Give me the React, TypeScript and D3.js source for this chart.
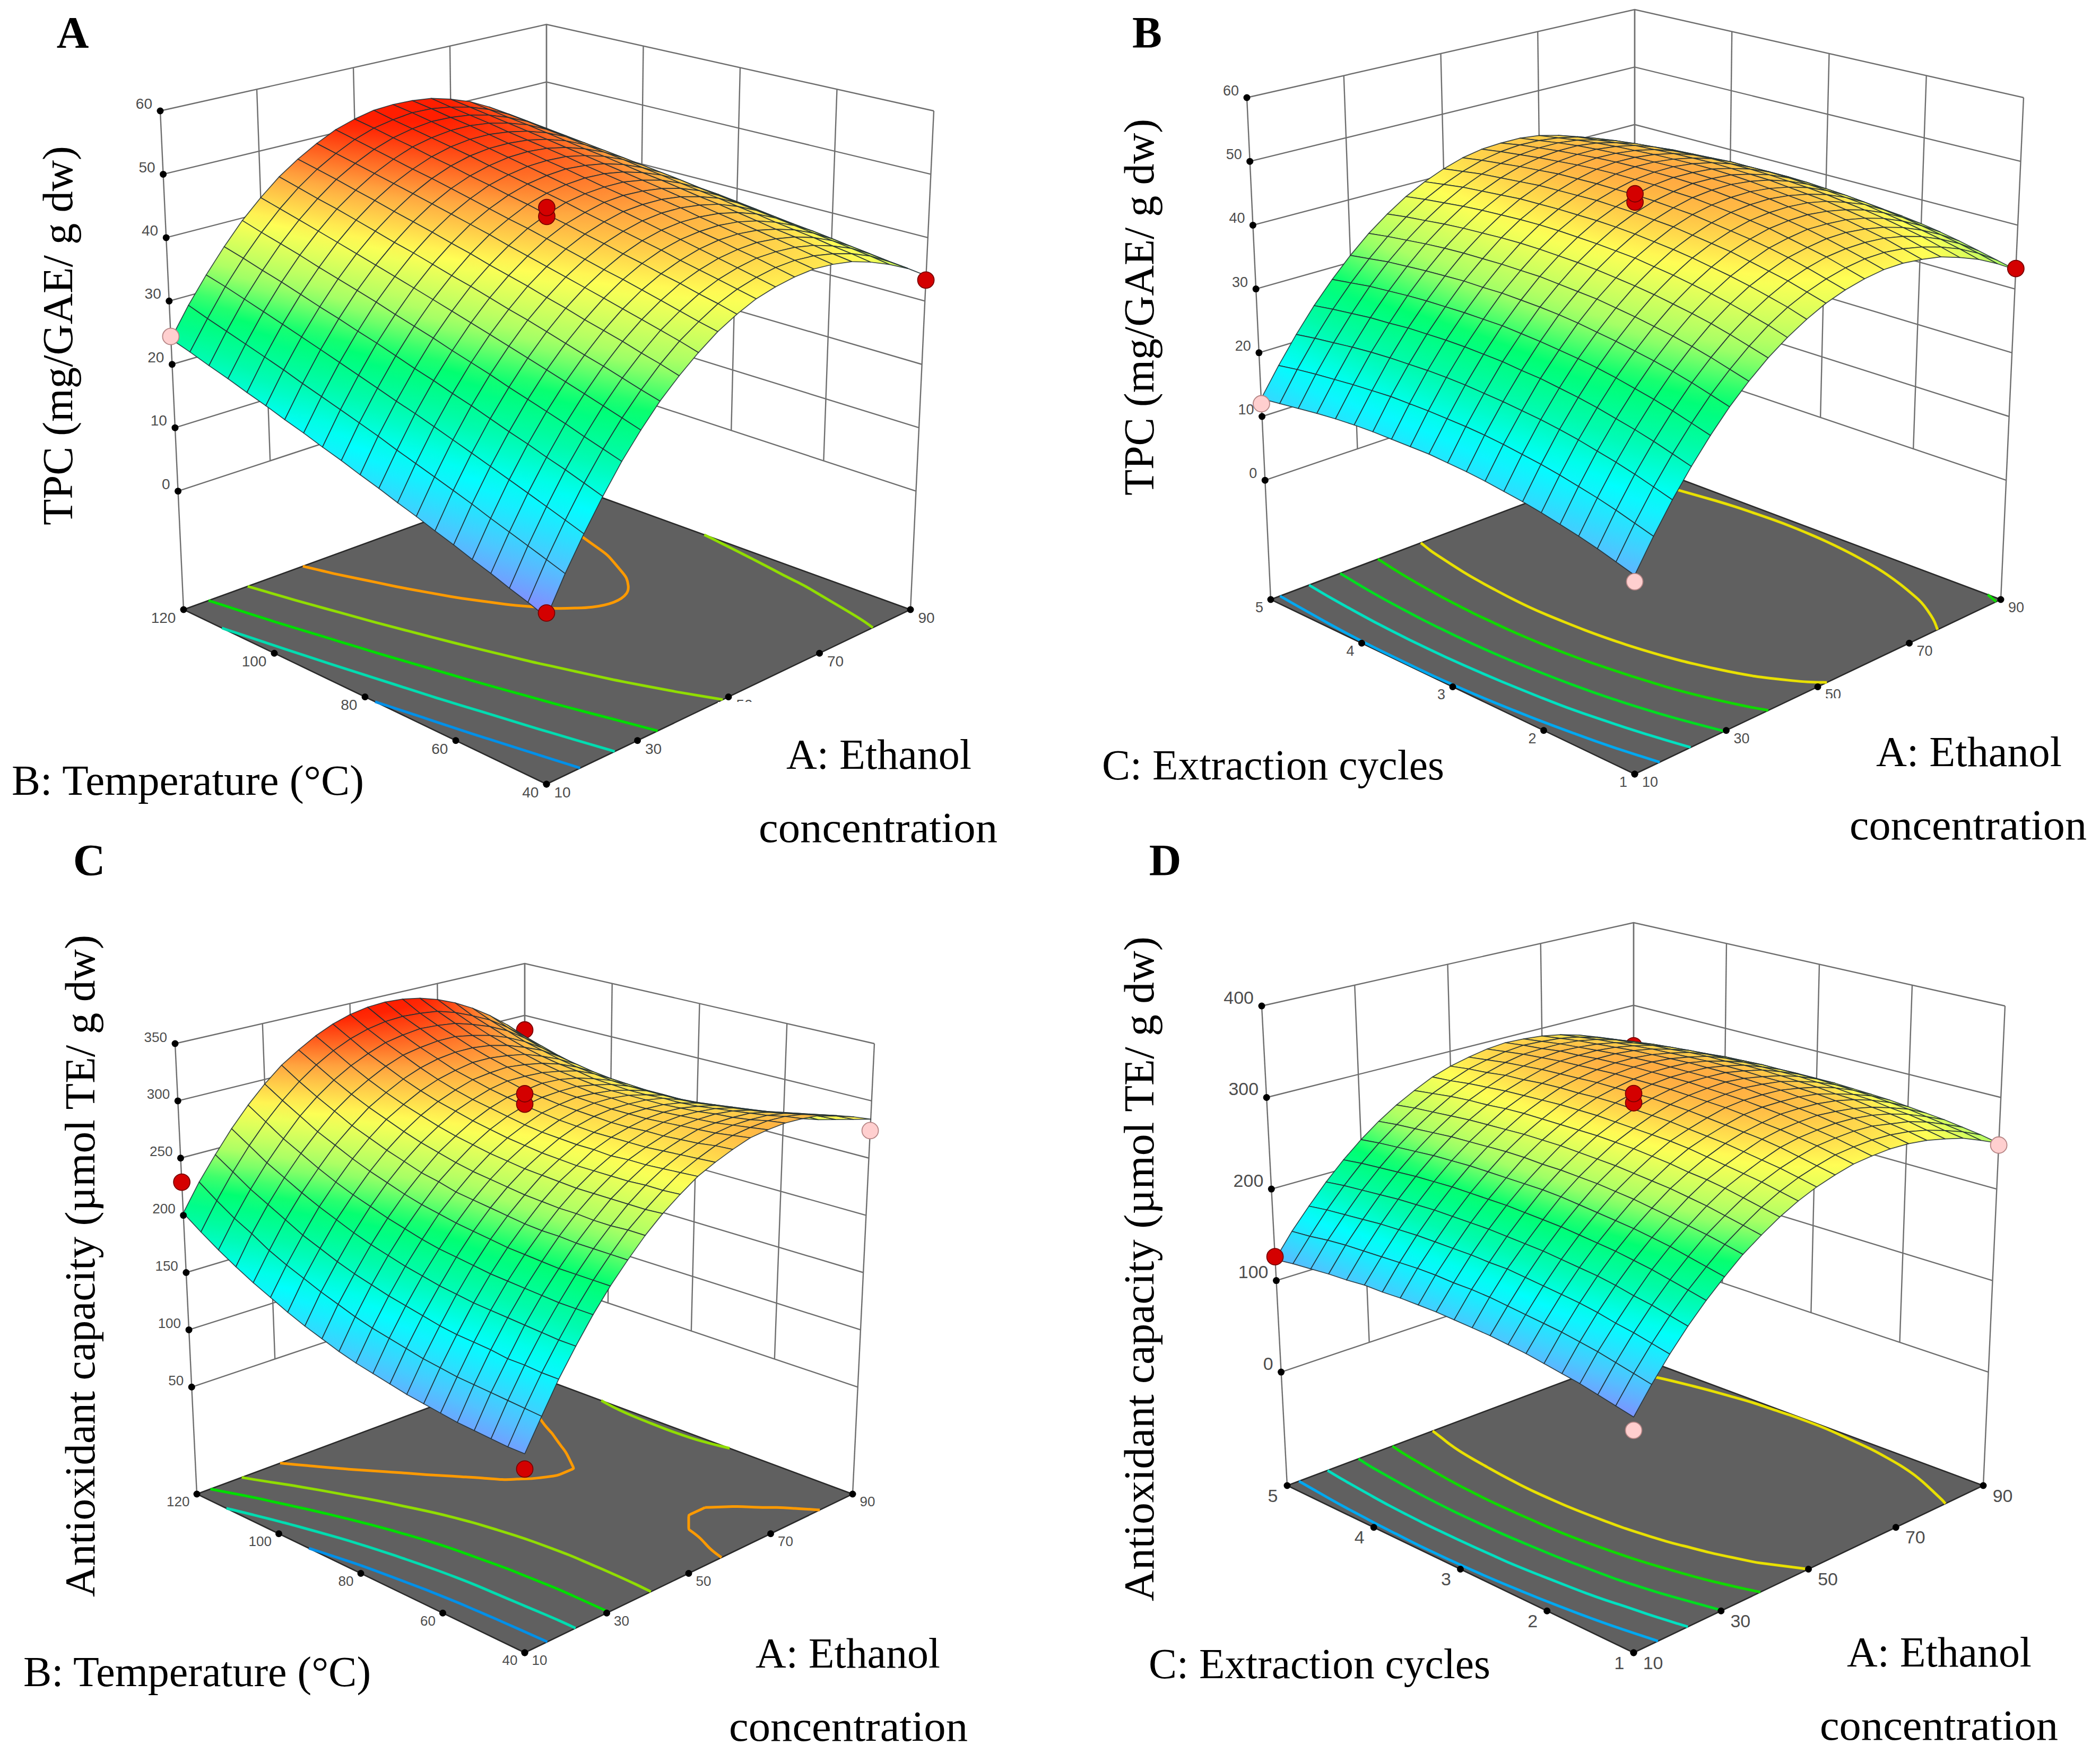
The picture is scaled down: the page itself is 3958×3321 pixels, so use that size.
import { useEffect, useRef } from 'react';
import * as d3 from 'd3';

// factor levels of the response surface grid
const ethanolGrid = [10, 14, 18, 22, 26, 30, 34, 38, 42, 46, 50, 54, 58, 62, 66, 70, 74, 78, 82, 86, 90];
const temperatureGrid = [40, 44, 48, 52, 56, 60, 64, 68, 72, 76, 80, 84, 88, 92, 96, 100, 104, 108, 112, 116, 120];
const cyclesGrid = [1, 1.2, 1.4, 1.6, 1.8, 2, 2.2, 2.4, 2.6, 2.8, 3, 3.2, 3.4, 3.6, 3.8, 4, 4.2, 4.4, 4.6, 4.8, 5];

const ethanolTicks = [10, 30, 50, 70, 90];
const temperatureTicks = [40, 60, 80, 100, 120];
const cyclesTicks = [1, 2, 3, 4, 5];
const tpcTicks = [0, 10, 20, 30, 40, 50, 60];
const capacityTicksC = [50, 100, 150, 200, 250, 300, 350];
const capacityTicksD = [0, 100, 200, 300, 400];

// rows: temperature low to high, columns: ethanol low to high
const tpcByTemperature = [
  [5.0, 10.1, 14.7, 19.0, 23.0, 26.5, 29.7, 32.4, 34.8, 36.9, 38.5, 39.8, 40.6, 41.1, 41.3, 41.0, 40.4, 39.3, 37.9, 36.2, 34.0],
  [6.0, 11.0, 15.6, 19.9, 23.8, 27.3, 30.4, 33.2, 35.6, 37.5, 39.2, 40.4, 41.2, 41.7, 41.8, 41.5, 40.8, 39.8, 38.4, 36.5, 34.4],
  [6.9, 11.9, 16.5, 20.8, 24.6, 28.1, 31.2, 33.9, 36.3, 38.2, 39.8, 41.0, 41.8, 42.3, 42.3, 42.0, 41.3, 40.2, 38.8, 36.9, 34.7],
  [7.9, 12.8, 17.4, 21.6, 25.5, 28.9, 32.0, 34.7, 37.0, 38.9, 40.5, 41.6, 42.4, 42.8, 42.9, 42.5, 41.8, 40.7, 39.2, 37.3, 35.1],
  [8.8, 13.7, 18.3, 22.5, 26.3, 29.7, 32.7, 35.4, 37.7, 39.6, 41.1, 42.2, 43.0, 43.4, 43.4, 43.0, 42.2, 41.1, 39.6, 37.7, 35.4],
  [9.8, 14.7, 19.2, 23.3, 27.1, 30.5, 33.5, 36.1, 38.4, 40.3, 41.8, 42.9, 43.6, 43.9, 43.9, 43.5, 42.7, 41.5, 40.0, 38.1, 35.8],
  [10.7, 15.6, 20.1, 24.2, 27.9, 31.3, 34.3, 36.9, 39.1, 40.9, 42.4, 43.5, 44.2, 44.5, 44.4, 44.0, 43.2, 42.0, 40.4, 38.4, 36.1],
  [11.7, 16.5, 21.0, 25.1, 28.8, 32.1, 35.1, 37.6, 39.8, 41.6, 43.1, 44.1, 44.8, 45.1, 45.0, 44.5, 43.7, 42.4, 40.8, 38.8, 36.5],
  [12.6, 17.4, 21.9, 25.9, 29.6, 32.9, 35.8, 38.4, 40.5, 42.3, 43.7, 44.7, 45.4, 45.6, 45.5, 45.0, 44.1, 42.9, 41.2, 39.2, 36.8],
  [13.6, 18.3, 22.8, 26.8, 30.4, 33.7, 36.6, 39.1, 41.2, 43.0, 44.4, 45.3, 46.0, 46.2, 46.0, 45.5, 44.6, 43.3, 41.6, 39.6, 37.2],
  [14.5, 19.3, 23.6, 27.6, 31.3, 34.5, 37.4, 39.8, 41.9, 43.7, 45.0, 46.0, 46.5, 46.7, 46.6, 46.0, 45.1, 43.7, 42.0, 40.0, 37.5],
  [15.5, 20.2, 24.5, 28.5, 32.1, 35.3, 38.1, 40.6, 42.7, 44.3, 45.7, 46.6, 47.1, 47.3, 47.1, 46.5, 45.5, 44.2, 42.5, 40.3, 37.9],
  [16.4, 21.1, 25.4, 29.4, 32.9, 36.1, 38.9, 41.3, 43.4, 45.0, 46.3, 47.2, 47.7, 47.9, 47.6, 47.0, 46.0, 44.6, 42.9, 40.7, 38.2],
  [17.4, 22.0, 26.3, 30.2, 33.8, 36.9, 39.7, 42.1, 44.1, 45.7, 47.0, 47.8, 48.3, 48.4, 48.2, 47.5, 46.5, 45.1, 43.3, 41.1, 38.6],
  [18.3, 22.9, 27.2, 31.1, 34.6, 37.7, 40.4, 42.8, 44.8, 46.4, 47.6, 48.4, 48.9, 49.0, 48.7, 48.0, 46.9, 45.5, 43.7, 41.5, 38.9],
  [19.3, 23.9, 28.1, 31.9, 35.4, 38.5, 41.2, 43.5, 45.5, 47.1, 48.3, 49.1, 49.5, 49.5, 49.2, 48.5, 47.4, 45.9, 44.1, 41.9, 39.3],
  [20.2, 24.8, 29.0, 32.8, 36.2, 39.3, 42.0, 44.3, 46.2, 47.7, 48.9, 49.7, 50.1, 50.1, 49.7, 49.0, 47.9, 46.4, 44.5, 42.2, 39.6],
  [21.2, 25.7, 29.9, 33.7, 37.1, 40.1, 42.8, 45.0, 46.9, 48.4, 49.6, 50.3, 50.7, 50.7, 50.3, 49.5, 48.4, 46.8, 44.9, 42.6, 40.0],
  [22.1, 26.6, 30.8, 34.5, 37.9, 40.9, 43.5, 45.8, 47.6, 49.1, 50.2, 50.9, 51.3, 51.2, 50.8, 50.0, 48.8, 47.3, 45.3, 43.0, 40.3],
  [23.1, 27.5, 31.7, 35.4, 38.7, 41.7, 44.3, 46.5, 48.3, 49.8, 50.9, 51.5, 51.9, 51.8, 51.3, 50.5, 49.3, 47.7, 45.7, 43.4, 40.7],
  [24.0, 28.5, 32.5, 36.2, 39.6, 42.5, 45.1, 47.2, 49.0, 50.5, 51.5, 52.2, 52.4, 52.3, 51.9, 51.0, 49.8, 48.1, 46.1, 43.8, 41.0],
];

// rows: extraction cycles low to high
const tpcByCycles = [
  [9.1, 13.5, 17.6, 21.3, 24.7, 27.8, 30.5, 32.9, 34.9, 36.6, 38.0, 39.0, 39.7, 40.1, 40.1, 39.7, 39.1, 38.0, 36.7, 35.0, 33.0],
  [9.9, 14.3, 18.4, 22.1, 25.5, 28.6, 31.3, 33.7, 35.8, 37.5, 38.8, 39.8, 40.5, 40.9, 40.9, 40.5, 39.8, 38.8, 37.5, 35.8, 33.7],
  [10.7, 15.1, 19.2, 22.9, 26.3, 29.4, 32.1, 34.5, 36.5, 38.2, 39.6, 40.6, 41.3, 41.6, 41.6, 41.3, 40.6, 39.6, 38.2, 36.5, 34.4],
  [11.4, 15.8, 19.9, 23.6, 27.0, 30.1, 32.8, 35.2, 37.2, 38.9, 40.2, 41.3, 41.9, 42.3, 42.3, 41.9, 41.2, 40.2, 38.8, 37.1, 35.1],
  [12.0, 16.4, 20.5, 24.2, 27.6, 30.7, 33.4, 35.8, 37.8, 39.5, 40.8, 41.9, 42.5, 42.9, 42.8, 42.5, 41.8, 40.8, 39.4, 37.7, 35.7],
  [12.6, 17.0, 21.1, 24.8, 28.2, 31.2, 33.9, 36.3, 38.3, 40.0, 41.4, 42.4, 43.1, 43.4, 43.4, 43.0, 42.3, 41.3, 39.9, 38.2, 36.2],
  [13.1, 17.5, 21.6, 25.3, 28.7, 31.7, 34.4, 36.8, 38.8, 40.5, 41.8, 42.8, 43.5, 43.8, 43.8, 43.5, 42.8, 41.7, 40.4, 38.6, 36.6],
  [13.5, 17.9, 22.0, 25.7, 29.1, 32.1, 34.8, 37.2, 39.2, 40.9, 42.2, 43.2, 43.9, 44.2, 44.2, 43.8, 43.1, 42.1, 40.7, 39.0, 36.9],
  [13.9, 18.3, 22.3, 26.1, 29.4, 32.5, 35.2, 37.5, 39.6, 41.2, 42.6, 43.6, 44.2, 44.5, 44.5, 44.1, 43.4, 42.4, 41.0, 39.3, 37.2],
  [14.2, 18.6, 22.6, 26.3, 29.7, 32.8, 35.4, 37.8, 39.8, 41.5, 42.8, 43.8, 44.5, 44.8, 44.8, 44.4, 43.7, 42.6, 41.2, 39.5, 37.5],
  [14.4, 18.8, 22.8, 26.6, 29.9, 33.0, 35.6, 38.0, 40.0, 41.7, 43.0, 44.0, 44.6, 45.0, 44.9, 44.6, 43.8, 42.8, 41.4, 39.7, 37.6],
  [14.6, 18.9, 23.0, 26.7, 30.1, 33.1, 35.8, 38.1, 40.1, 41.8, 43.1, 44.1, 44.8, 45.1, 45.0, 44.7, 43.9, 42.9, 41.5, 39.8, 37.7],
  [14.6, 19.0, 23.1, 26.8, 30.1, 33.2, 35.8, 38.2, 40.2, 41.8, 43.2, 44.1, 44.8, 45.1, 45.1, 44.7, 44.0, 42.9, 41.5, 39.8, 37.7],
  [14.6, 19.0, 23.1, 26.8, 30.1, 33.1, 35.8, 38.2, 40.2, 41.8, 43.1, 44.1, 44.8, 45.1, 45.0, 44.6, 43.9, 42.9, 41.5, 39.7, 37.6],
  [14.6, 19.0, 23.0, 26.7, 30.0, 33.1, 35.7, 38.1, 40.1, 41.7, 43.0, 44.0, 44.7, 45.0, 44.9, 44.5, 43.8, 42.7, 41.3, 39.6, 37.5],
  [14.5, 18.8, 22.9, 26.6, 29.9, 32.9, 35.6, 37.9, 39.9, 41.6, 42.9, 43.9, 44.5, 44.8, 44.7, 44.3, 43.6, 42.5, 41.1, 39.4, 37.3],
  [14.3, 18.6, 22.7, 26.3, 29.7, 32.7, 35.4, 37.7, 39.7, 41.3, 42.6, 43.6, 44.2, 44.5, 44.5, 44.1, 43.4, 42.3, 40.9, 39.1, 37.0],
  [14.0, 18.3, 22.4, 26.1, 29.4, 32.4, 35.1, 37.4, 39.4, 41.0, 42.3, 43.3, 43.9, 44.2, 44.2, 43.8, 43.0, 42.0, 40.5, 38.8, 36.7],
  [13.6, 18.0, 22.0, 25.7, 29.1, 32.1, 34.7, 37.0, 39.0, 40.7, 42.0, 42.9, 43.5, 43.8, 43.8, 43.4, 42.6, 41.6, 40.1, 38.4, 36.3],
  [13.2, 17.6, 21.6, 25.3, 28.6, 31.6, 34.3, 36.6, 38.6, 40.2, 41.5, 42.5, 43.1, 43.4, 43.3, 42.9, 42.2, 41.1, 39.7, 37.9, 35.8],
  [12.8, 17.1, 21.1, 24.8, 28.1, 31.1, 33.8, 36.1, 38.1, 39.7, 41.0, 42.0, 42.6, 42.8, 42.8, 42.4, 41.6, 40.5, 39.1, 37.4, 35.3],
];

const capacityByTemperature = [
  [112, 136, 160, 181, 201, 219, 235, 250, 263, 274, 284, 291, 297, 302, 304, 305, 304, 302, 297, 291, 284],
  [112, 137, 160, 181, 201, 219, 235, 250, 262, 273, 283, 290, 296, 300, 302, 303, 302, 299, 294, 288, 280],
  [113, 138, 161, 182, 201, 219, 235, 249, 262, 273, 282, 289, 294, 298, 300, 300, 299, 296, 291, 284, 276],
  [114, 139, 161, 183, 202, 219, 235, 249, 262, 272, 281, 288, 293, 297, 298, 298, 297, 293, 288, 281, 272],
  [115, 140, 163, 184, 203, 220, 236, 250, 262, 272, 281, 287, 292, 296, 297, 297, 295, 291, 285, 278, 269],
  [117, 141, 164, 185, 204, 221, 236, 250, 262, 272, 280, 287, 292, 295, 296, 295, 293, 289, 283, 275, 265],
  [119, 143, 165, 186, 205, 222, 237, 251, 263, 272, 281, 287, 291, 294, 295, 294, 291, 287, 281, 272, 263],
  [121, 145, 167, 188, 207, 224, 239, 252, 264, 273, 281, 287, 291, 294, 294, 293, 290, 285, 279, 270, 260],
  [124, 148, 170, 190, 209, 226, 241, 254, 265, 274, 282, 288, 292, 294, 294, 293, 290, 284, 277, 269, 258],
  [127, 151, 173, 193, 211, 228, 243, 256, 267, 276, 283, 289, 293, 295, 295, 293, 289, 284, 276, 267, 256],
  [130, 154, 176, 196, 214, 231, 245, 258, 269, 278, 285, 291, 294, 296, 295, 293, 289, 284, 276, 267, 255],
  [134, 158, 180, 200, 218, 234, 249, 261, 272, 281, 288, 293, 296, 297, 297, 294, 290, 284, 276, 266, 255],
  [139, 163, 184, 204, 222, 238, 252, 265, 275, 284, 291, 296, 298, 300, 299, 296, 291, 285, 277, 267, 255],
  [144, 168, 189, 209, 227, 243, 257, 269, 279, 288, 294, 299, 302, 302, 301, 298, 294, 287, 278, 268, 255],
  [150, 174, 195, 215, 232, 248, 262, 274, 284, 292, 298, 303, 305, 306, 304, 301, 296, 289, 280, 269, 256],
  [157, 180, 201, 221, 238, 254, 268, 280, 289, 297, 303, 307, 310, 310, 308, 305, 299, 292, 283, 271, 258],
  [164, 187, 209, 228, 245, 261, 274, 286, 295, 303, 309, 313, 315, 315, 313, 309, 303, 296, 286, 274, 261],
  [172, 196, 217, 236, 253, 268, 282, 293, 302, 310, 316, 319, 321, 321, 318, 314, 308, 300, 290, 278, 265],
  [181, 204, 225, 244, 261, 277, 290, 301, 310, 317, 323, 326, 328, 327, 325, 320, 314, 306, 295, 283, 269],
  [191, 214, 235, 254, 271, 286, 299, 310, 319, 326, 331, 334, 335, 334, 332, 327, 320, 312, 301, 288, 274],
  [202, 225, 245, 264, 281, 296, 309, 319, 328, 335, 340, 343, 344, 343, 340, 335, 328, 319, 308, 295, 280],
];

const capacityByCycles = [
  [106, 131, 154, 175, 194, 211, 227, 240, 252, 262, 270, 276, 281, 283, 284, 283, 280, 275, 269, 260, 250],
  [110, 135, 158, 179, 198, 215, 231, 244, 256, 266, 274, 280, 285, 287, 288, 287, 284, 279, 272, 264, 254],
  [114, 139, 162, 183, 202, 219, 235, 248, 260, 270, 278, 284, 289, 291, 292, 291, 287, 283, 276, 267, 257],
  [118, 143, 165, 186, 206, 223, 238, 252, 264, 273, 281, 288, 292, 294, 295, 294, 291, 286, 279, 270, 260],
  [121, 146, 169, 190, 209, 226, 241, 255, 267, 276, 284, 291, 295, 297, 298, 296, 293, 288, 281, 273, 262],
  [124, 149, 172, 193, 212, 229, 244, 258, 269, 279, 287, 293, 297, 300, 300, 299, 296, 291, 284, 275, 264],
  [127, 151, 174, 195, 214, 231, 247, 260, 272, 282, 289, 295, 300, 302, 302, 301, 298, 292, 285, 277, 266],
  [129, 153, 176, 197, 216, 233, 249, 262, 274, 284, 291, 297, 302, 304, 304, 303, 299, 294, 287, 278, 267],
  [131, 155, 178, 199, 218, 235, 251, 264, 276, 285, 293, 299, 303, 305, 306, 304, 301, 295, 288, 279, 268],
  [132, 157, 180, 200, 219, 237, 252, 265, 277, 286, 294, 300, 304, 306, 307, 305, 301, 296, 289, 280, 269],
  [133, 158, 180, 201, 220, 238, 253, 266, 278, 287, 295, 301, 305, 307, 307, 306, 302, 297, 289, 280, 269],
  [134, 158, 181, 202, 221, 238, 253, 267, 278, 288, 296, 301, 305, 307, 307, 306, 302, 297, 289, 280, 269],
  [134, 159, 181, 202, 221, 238, 254, 267, 278, 288, 296, 301, 305, 307, 307, 306, 302, 296, 289, 280, 268],
  [134, 159, 181, 202, 221, 238, 254, 267, 278, 288, 295, 301, 305, 307, 307, 305, 301, 296, 288, 279, 268],
  [133, 158, 181, 202, 221, 238, 253, 266, 278, 287, 295, 300, 304, 306, 306, 304, 300, 295, 287, 278, 266],
  [133, 157, 180, 201, 220, 237, 252, 265, 277, 286, 294, 299, 303, 305, 305, 303, 299, 293, 286, 276, 265],
  [131, 156, 179, 200, 219, 236, 251, 264, 275, 285, 292, 298, 302, 303, 303, 301, 297, 292, 284, 274, 263],
  [130, 155, 177, 198, 217, 234, 249, 262, 274, 283, 291, 296, 300, 302, 301, 299, 295, 289, 282, 272, 260],
  [128, 153, 175, 196, 215, 232, 247, 260, 272, 281, 288, 294, 298, 299, 299, 297, 293, 287, 279, 269, 258],
  [126, 150, 173, 194, 213, 230, 245, 258, 269, 278, 286, 291, 295, 297, 296, 294, 290, 284, 276, 266, 255],
  [123, 148, 170, 191, 210, 227, 242, 255, 266, 276, 283, 288, 292, 294, 293, 291, 287, 281, 273, 263, 251],
];

// design points: [ethanol, second factor, response, above prediction?]
const pointsA: [number, number, number, boolean][] = [
  [10, 120, 24.4, false], [90, 40, 33.3, true], [10, 40, 5.6, true], [50, 80, 44.7, true], [50, 80, 46.1, true],
];
const pointsB: [number, number, number, boolean][] = [
  [10, 5, 12, false], [90, 1, 33.2, true], [10, 1, 8.2, false], [50, 3, 44.7, true], [50, 3, 46, true],
];
const pointsC: [number, number, number, boolean][] = [
  [90, 120, 286, true], [10, 120, 229, true], [90, 40, 274, false], [10, 40, 100, true], [50, 80, 303, true], [50, 80, 312, true],
];
const pointsD: [number, number, number, boolean][] = [
  [90, 5, 251, true], [10, 5, 126, true], [90, 1, 248, false], [10, 1, 93, false], [50, 3, 302, true], [50, 3, 312, true],
];

const levelsA = [14, 22, 30, 38, 46.3];
const levelsB = [15, 21.5, 27.5, 33.5, 38.5];
const levelsC = [145, 183, 221, 259, 297];
const levelsD = [140, 177, 212, 243, 270];

const contourColorsAC = ['#0090e8', '#00dcb0', '#00dd00', '#90dd00', '#ff9a00'];
const contourColorsBD = ['#00a8f0', '#00e0c0', '#00dd20', '#10d800', '#e8e000'];

const colorStops = [0, 0.12, 0.27, 0.38, 0.5, 0.61, 0.75, 0.87, 1];
const colorValues = ['#8886ff', '#50c4ff', '#00ffff', '#00fbb0', '#00ff70', '#a4ff66', '#ffff55', '#ffa640', '#ff1e00'];

type Pt = [number, number];
interface Panel {
  id: string;
  letter: string;
  letterPos: Pt;
  bGrid: number[];
  bTicks: number[];
  zTicks: number[];
  zDomain: [number, number];
  colorDomain: [number, number];
  surface: number[][];
  points: [number, number, number, boolean][];
  levels: number[];
  contourColors: string[];
  tickSize: number;
  floor: [Pt, Pt, Pt, Pt]; // front, right, back, left
  top: [Pt, Pt, Pt, Pt];
  yTitle: { text: string; x: number; y0: number; y1: number };
  labels: { text: string; x0: number; x1: number; y: number }[];
  mask?: [number, number, number, number];
}

const panels: Panel[] = [
  {
    id: 'a', letter: 'A', letterPos: [137, 90], bGrid: temperatureGrid, bTicks: temperatureTicks, zTicks: tpcTicks,
    zDomain: [-18.7, 60], colorDomain: [5, 51.3], surface: tpcByTemperature, points: pointsA, levels: levelsA,
    contourColors: contourColorsAC, tickSize: 28,
    floor: [[1030, 1478], [1716, 1149], [1030, 900], [346, 1149]],
    top: [[1030, 433], [1760, 209], [1030, 46], [302, 209]],
    yTitle: { text: 'TPC (mg/GAE/ g dw)', x: 136, y0: 990, y1: 275 },
    labels: [
      { text: 'B: Temperature (°C)', x0: 22, x1: 686, y: 1498 },
      { text: 'A: Ethanol', x0: 1482, x1: 1831, y: 1449 },
      { text: 'concentration', x0: 1430, x1: 1880, y: 1587 },
    ],
    mask: [1353, 1323, 560, 60],
  },
  {
    id: 'b', letter: 'B', letterPos: [2162, 90], bGrid: cyclesGrid, bTicks: cyclesTicks, zTicks: tpcTicks,
    zDomain: [-18.7, 60], colorDomain: [5, 51.3], surface: tpcByCycles, points: pointsB, levels: levelsB,
    contourColors: contourColorsBD, tickSize: 27,
    floor: [[3081, 1459], [3771, 1130], [3081, 871], [2395, 1130]],
    top: [[3081, 398], [3814, 184], [3081, 18], [2350, 184]],
    yTitle: { text: 'TPC (mg/GAE/ g dw)', x: 2174, y0: 934, y1: 224 },
    labels: [
      { text: 'C: Extraction cycles', x0: 2077, x1: 2722, y: 1469 },
      { text: 'A: Ethanol', x0: 3536, x1: 3886, y: 1444 },
      { text: 'concentration', x0: 3486, x1: 3933, y: 1582 },
    ],
    mask: [3411, 1316, 540, 50],
  },
  {
    id: 'c', letter: 'C', letterPos: [168, 1650], bGrid: temperatureGrid, bTicks: temperatureTicks, zTicks: capacityTicksC,
    zDomain: [-43.5, 350], colorDomain: [100, 340], surface: capacityByTemperature, points: pointsC, levels: levelsC,
    contourColors: contourColorsAC, tickSize: 26,
    floor: [[989, 3115], [1607, 2816], [989, 2586], [371, 2816]],
    top: [[989, 2166], [1648, 1967], [989, 1816], [330, 1967]],
    yTitle: { text: 'Antioxidant capacity (µmol TE/ g dw)', x: 178, y0: 3010, y1: 1762 },
    labels: [
      { text: 'B: Temperature (°C)', x0: 44, x1: 699, y: 3178 },
      { text: 'A: Ethanol', x0: 1424, x1: 1772, y: 3143 },
      { text: 'concentration', x0: 1374, x1: 1824, y: 3281 },
    ],
  },
  {
    id: 'd', letter: 'D', letterPos: [2196, 1650], bGrid: cyclesGrid, bTicks: cyclesTicks, zTicks: capacityTicksD,
    zDomain: [-124, 400], colorDomain: [100, 340], surface: capacityByCycles, points: pointsD, levels: levelsD,
    contourColors: contourColorsBD, tickSize: 34,
    floor: [[3079, 3115], [3738, 2800], [3079, 2555], [2426, 2800]],
    top: [[3079, 2103], [3779, 1896], [3079, 1739], [2378, 1896]],
    yTitle: { text: 'Antioxidant capacity (µmol TE/ g dw)', x: 2174, y0: 3018, y1: 1765 },
    labels: [
      { text: 'C: Extraction cycles', x0: 2165, x1: 2809, y: 3163 },
      { text: 'A: Ethanol', x0: 3481, x1: 3829, y: 3141 },
      { text: 'concentration', x0: 3430, x1: 3879, y: 3279 },
    ],
  },
];

const SERIF = '"Liberation Serif", serif';
const SANS = '"Liberation Sans", sans-serif';

function drawPanel(svg: d3.Selection<SVGSVGElement, unknown, null, undefined>, p: Panel) {
  const n = ethanolGrid.length;
  const aExtent = d3.extent(ethanolTicks) as [number, number];
  const bExtent = d3.extent(p.bTicks) as [number, number];
  const sx = d3.scaleLinear().domain(aExtent).range([0, 1]);
  const sy = d3.scaleLinear().domain(bExtent).range([0, 1]);
  const sz = d3.scaleLinear().domain(p.zDomain).range([0, 1]);

  // box corners are interpolated, close enough to the perspective of the original
  const project = (a: number, b: number, z: number): Pt => {
    const s = sx(a), t = sy(b), r = sz(z);
    const mix = (c: [Pt, Pt, Pt, Pt], k: 0 | 1) =>
      (1 - s) * (1 - t) * c[0][k] + s * (1 - t) * c[1][k] + s * t * c[2][k] + (1 - s) * t * c[3][k];
    return [
      (1 - r) * mix(p.floor, 0) + r * mix(p.top, 0),
      (1 - r) * mix(p.floor, 1) + r * mix(p.top, 1),
    ];
  };

  const g = svg.append('g').attr('id', `panel-${p.id}`);
  const defs = g.append('defs');
  const line = d3.line<Pt>();
  const smooth = d3.line<Pt>().curve(d3.curveBasis);
  const zMin = p.zDomain[0], zMax = p.zTicks[p.zTicks.length - 1], zLow = p.zTicks[0];
  const [a0, a1] = aExtent;
  const [b0, b1] = bExtent;

  // back walls, the inner grid lines stop at the lowest tick
  const walls = g.append('g').attr('fill', 'none').attr('stroke', '#6e6e6e').attr('stroke-width', 2.4);
  p.zTicks.forEach(z => {
    walls.append('path').attr('d', line([project(a0, b1, z), project(a1, b1, z), project(a1, b0, z)]));
  });
  ethanolTicks.forEach(a => {
    walls.append('path').attr('d', line([project(a, b1, a === a0 ? zMin : zLow), project(a, b1, zMax)]));
  });
  p.bTicks.forEach(b => {
    walls.append('path').attr('d', line([project(a1, b, b === b0 ? zMin : zLow), project(a1, b, zMax)]));
  });

  // floor
  g.append('path')
    .attr('d', line(p.floor) + 'Z')
    .attr('fill', '#606060')
    .attr('stroke', '#2a2a2a')
    .attr('stroke-width', 2.6);

  // contours on the floor, the boundary part of each ring is left out
  const flat = p.surface.flat();
  const contours = d3.contours().size([n, n]).thresholds(p.levels)(flat);
  const aOf = d3.scaleLinear().domain([0.5, n - 0.5]).range(aExtent);
  const bOf = d3.scaleLinear().domain([0.5, n - 0.5]).range(bExtent);
  contours.forEach((c, li) => {
    c.coordinates.forEach(poly => poly.forEach(ring => {
      let run: Pt[] = [];
      const runs: Pt[][] = [];
      ring.forEach(([x, y]) => {
        const inside = x >= 0.499 && x <= n - 0.499 && y >= 0.499 && y <= n - 0.499;
        if (inside) run.push(project(aOf(x), bOf(y), zMin));
        else if (run.length) { runs.push(run); run = []; }
      });
      if (run.length) runs.push(run);
      runs.filter(r => r.length > 1).forEach(r => {
        g.append('path').attr('d', smooth(r)).attr('fill', 'none')
          .attr('stroke', p.contourColors[li]).attr('stroke-width', 5).attr('stroke-linejoin', 'round');
      });
    }));
  });

  const drawBall = (d: [number, number, number, boolean]) => {
    const [x, y] = project(d[0], d[1], d[2]);
    g.append('circle').attr('cx', x).attr('cy', y).attr('r', 15.5)
      .attr('fill', d[3] ? '#d40000' : '#ffcfcf')
      .attr('stroke', d[3] ? '#7a0000' : '#b58585')
      .attr('stroke-width', 1.8);
  };
  p.points.filter(d => d[0] === a1 && d[1] === b1).forEach(drawBall);

  // surface, painted from the back corner forward
  const color = d3.scaleLinear<string>()
    .domain(colorStops.map(t => p.colorDomain[0] + t * (p.colorDomain[1] - p.colorDomain[0])))
    .range(colorValues)
    .clamp(true);
  const surf = g.append('g').attr('stroke', '#1f2d33').attr('stroke-width', 1.7).attr('stroke-opacity', 0.85).attr('stroke-linejoin', 'round');
  for (let i = n - 2; i >= 0; i--) {
    for (let j = n - 2; j >= 0; j--) {
      const zs = [p.surface[j][i], p.surface[j][i + 1], p.surface[j + 1][i + 1], p.surface[j + 1][i]];
      const q: Pt[] = [
        project(ethanolGrid[i], p.bGrid[j], zs[0]),
        project(ethanolGrid[i + 1], p.bGrid[j], zs[1]),
        project(ethanolGrid[i + 1], p.bGrid[j + 1], zs[2]),
        project(ethanolGrid[i], p.bGrid[j + 1], zs[3]),
      ];
      const zc = d3.mean(zs) as number;
      const lo = d3.min(zs) as number, hi = d3.max(zs) as number;
      const cx = d3.mean(q, d => d[0]) as number, cy = d3.mean(q, d => d[1]) as number;
      // screen direction in which the response grows inside this cell
      const e1 = [(q[1][0] + q[2][0] - q[0][0] - q[3][0]) / 2, (q[1][1] + q[2][1] - q[0][1] - q[3][1]) / 2];
      const e2 = [(q[2][0] + q[3][0] - q[0][0] - q[1][0]) / 2, (q[2][1] + q[3][1] - q[0][1] - q[1][1]) / 2];
      const d1 = (zs[1] + zs[2] - zs[0] - zs[3]) / 2, d2 = (zs[2] + zs[3] - zs[0] - zs[1]) / 2;
      const det = e1[0] * e2[1] - e1[1] * e2[0];
      let fill = color(zc);
      if (Math.abs(det) > 4 && hi - lo > 1e-6) {
        const gx = (d1 * e2[1] - d2 * e1[1]) / det;
        const gy = (e1[0] * d2 - e2[0] * d1) / det;
        const g2 = gx * gx + gy * gy;
        if (g2 > 1e-12) {
          const id = `g-${p.id}-${i}-${j}`;
          const lg = defs.append('linearGradient').attr('id', id).attr('gradientUnits', 'userSpaceOnUse')
            .attr('x1', cx - gx * (zc - lo) / g2).attr('y1', cy - gy * (zc - lo) / g2)
            .attr('x2', cx + gx * (hi - zc) / g2).attr('y2', cy + gy * (hi - zc) / g2);
          lg.append('stop').attr('offset', 0).attr('stop-color', color(lo));
          lg.append('stop').attr('offset', (zc - lo) / (hi - lo)).attr('stop-color', color(zc));
          lg.append('stop').attr('offset', 1).attr('stop-color', color(hi));
          fill = `url(#${id})`;
        }
      }
      surf.append('path').attr('d', line(q) + 'Z').attr('fill', fill);
    }
  }
  p.points.filter(d => !(d[0] === a1 && d[1] === b1)).forEach(drawBall);

  // ticks
  const fs = p.tickSize;
  const tickText = (x: number, y: number, text: number, anchor: string) =>
    g.append('text').attr('x', x).attr('y', y).attr('text-anchor', anchor)
      .attr('dominant-baseline', 'central').attr('font-family', SANS).attr('font-size', fs)
      .attr('fill', '#4d4d4d').text(text);
  const dot = (pt: Pt) => g.append('circle').attr('cx', pt[0]).attr('cy', pt[1]).attr('r', 6.5).attr('fill', '#000');

  p.zTicks.forEach(z => {
    const pt = project(a0, b1, z);
    dot(pt);
    tickText(pt[0] - 15, pt[1] - fs * 0.48, z, 'end');
  });
  p.bTicks.forEach(b => {
    const pt = project(a0, b, zMin);
    dot(pt);
    tickText(pt[0] - fs * 0.52, pt[1] + fs * 0.55, b, 'end');
  });
  ethanolTicks.forEach(a => {
    const pt = project(a, b0, zMin);
    dot(pt);
    tickText(pt[0] + fs * 0.52, pt[1] + fs * 0.55, a, 'start');
  });

  if (p.mask) {
    g.append('rect').attr('x', p.mask[0]).attr('y', p.mask[1]).attr('width', p.mask[2]).attr('height', p.mask[3]).attr('fill', '#fff');
  }

  // titles
  g.append('text').attr('x', p.letterPos[0]).attr('y', p.letterPos[1]).attr('text-anchor', 'middle')
    .attr('font-family', SERIF).attr('font-weight', 'bold').attr('font-size', 84).attr('fill', '#000').text(p.letter);

  const { yTitle } = p;
  g.append('text')
    .attr('transform', `translate(${yTitle.x},${yTitle.y0}) rotate(-90)`)
    .attr('font-family', SERIF).attr('font-size', 80).attr('fill', '#000')
    .attr('textLength', yTitle.y0 - yTitle.y1).attr('lengthAdjust', 'spacingAndGlyphs')
    .text(yTitle.text);

  p.labels.forEach(l => {
    g.append('text').attr('x', l.x0).attr('y', l.y)
      .attr('font-family', SERIF).attr('font-size', 80).attr('fill', '#000')
      .attr('textLength', l.x1 - l.x0).attr('lengthAdjust', 'spacingAndGlyphs')
      .text(l.text);
  });
}

export default function App() {
  const svgRef = useRef<SVGSVGElement>(null);

  useEffect(() => {
    if (!svgRef.current) return;
    const svg = d3.select(svgRef.current);
    svg.selectAll('*').remove();
    panels.forEach(p => drawPanel(svg, p));
  }, []);

  return (
    <svg
      ref={svgRef}
      width={3958}
      height={3321}
      style={{ position: 'absolute', left: 0, top: 0, background: '#fff' }}
    />
  );
}
